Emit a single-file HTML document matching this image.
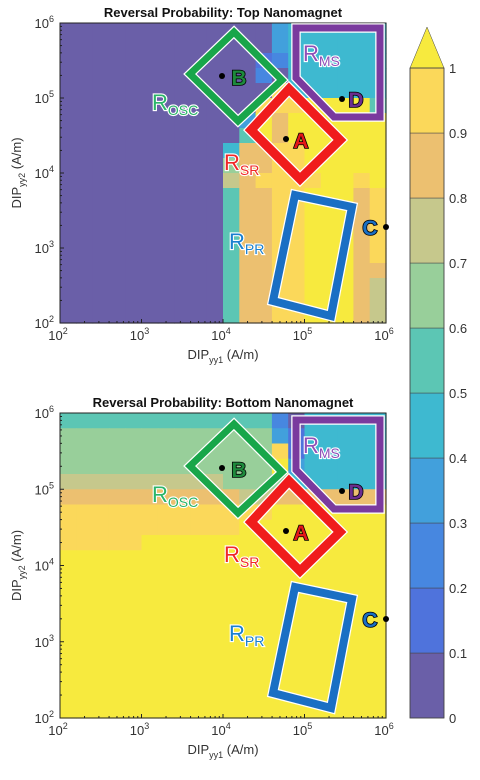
<!DOCTYPE html>
<html><head><meta charset="utf-8"><style>
html,body{margin:0;padding:0;background:#fff;}
svg{display:block;font-family:"Liberation Sans",sans-serif;}
.lab{font-weight:bold;paint-order:stroke;stroke:#000;stroke-width:1.6px;}
.reg{paint-order:stroke;stroke:#fff;stroke-width:2.2px;}
</style></head><body>
<svg id="fig" width="480" height="780" viewBox="0 0 480 780" xmlns="http://www.w3.org/2000/svg"></svg>
<script>
// ---- data ----
const levelChars = "0123456789Y";
const levelColors = ["#6a5fa8","#4f73dc","#4787e0","#42a0dc","#3eb9d0","#5cc6b4","#98cf9a","#c6c88c","#ecc070","#fbd85a","#f7ea3e"];
const colorbarTicks = ["0","0.1","0.2","0.3","0.4","0.5","0.6","0.7","0.8","0.9","1"];
const decadeTicks = [2,3,4,5,6];
// rows top (1e6) to bottom (1e2), 20 columns from 1e2 to 1e6, each 0.2 decade
const topGrid = [
"00000000000003444444",
"00000000000003444444",
"00000000000012444444",
"00000000000020444444",
"00000000000009444444",
"000000000000999YYYY5",
"000000000003Y8YYYYYY",
"000000000005Y8YYYYYY",
"000000000048899YYYYY",
"000000000068899YYYYY",
"0000000000789999YY9Y",
"000000000058899YYY89",
"000000000058899YYY89",
"000000000058899YYY89",
"000000000058899YYY89",
"000000000058899YYY89",
"000000000058899YYY88",
"000000000058899YYY87",
"000000000058899YYY87",
"000000000058899YYY87"];
const bottomGrid = [
"55555555555552044444",
"66666666666663144444",
"66666666666669144444",
"6666666666666Y344444",
"77777777776666444444",
"88888888888778888888",
"9999999999999YYYYYYY",
"99999999999YYYYYYYYY",
"99999YYYYYYYYYYYYYYY",
"YYYYYYYYYYYYYYYYYYYY",
"YYYYYYYYYYYYYYYYYYYY",
"YYYYYYYYYYYYYYYYYYYY",
"YYYYYYYYYYYYYYYYYYYY",
"YYYYYYYYYYYYYYYYYYYY",
"YYYYYYYYYYYYYYYYYYYY",
"YYYYYYYYYYYYYYYYYYYY",
"YYYYYYYYYYYYYYYYYYYY",
"YYYYYYYYYYYYYYYYYYYY",
"YYYYYYYYYYYYYYYYYYYY",
"YYYYYYYYYYYYYYYYYYYY"];

const NS="http://www.w3.org/2000/svg";
const svg=document.getElementById('fig');
function el(tag,attrs,parent){const e=document.createElementNS(NS,tag);for(const k in attrs)e.setAttribute(k,attrs[k]);(parent||svg).appendChild(e);return e;}

function drawPanel(grid,x0,y0,x1,y1,title,name,off){
  const g=el('g',{});
  
  
  const sx=v=>x0+(v-2)/4*(x1-x0);
  const sy=v=>y1-(v-2)/4*(y1-y0);
  const rows=grid.length, cols=grid[0].length;
  const span=4;
  for(let r=0;r<rows;r++)for(let c=0;c<cols;c++){
    const lv=levelChars.indexOf(grid[r][c]);
    const xa=sx(2+c*span/cols), xb=sx(2+(c+1)*span/cols);
    const ya=sy(6-r*span/rows), yb=sy(6-(r+1)*span/rows);
    const rc=el('rect',{x:xa,y:ya,width:xb-xa+0.6,height:yb-ya+0.6,fill:levelColors[lv]},g);
    
    
  }
  const box=el('rect',{x:x0,y:y0,width:x1-x0,height:y1-y0,fill:'none',stroke:'#222','stroke-width':1},g);
  
  
  decadeTicks.forEach((d,i)=>{
    const X=sx(d),Y=sy(d);
    el('line',{x1:X,y1:y1,x2:X,y2:y1-4,stroke:'#222'},g);
    el('line',{x1:x0,y1:Y,x2:x0+4,y2:Y,stroke:'#222'},g);
    if(i<decadeTicks.length-1){for(let m=2;m<10;m++){const lm=d+Math.log10(m);
      el('line',{x1:sx(lm),y1:y1,x2:sx(lm),y2:y1-2,stroke:'#222'},g);
      el('line',{x1:x0,y1:sy(lm),x2:x0+2,y2:sy(lm),stroke:'#222'},g);}}
    const tx=el('text',{x:X-2,y:y1+17,'font-size':13,fill:'#333','text-anchor':'middle'},g);
    tx.innerHTML='10<tspan dy="-6" font-size="9">'+d+'</tspan>';
    
    
    const ty=el('text',{x:x0-6,y:Y+5,'font-size':13,fill:'#333','text-anchor':'end'},g);
    ty.innerHTML='10<tspan dy="-6" font-size="9">'+d+'</tspan>';
    
    
  });
  const t=el('text',{x:(x0+x1)/2,y:y0-6,'font-size':13,'font-weight':'bold','text-anchor':'middle',fill:'#111'},g);
  t.textContent=title;
  
  
  const xt=el('text',{x:(x0+x1)/2,y:y1+36,'font-size':13,'text-anchor':'middle',fill:'#333'},g);
  xt.innerHTML='DIP<tspan dy="4" font-size="9">yy1</tspan><tspan dy="-4"> (A/m)</tspan>';
  
  
  const yt=el('text',{x:0,y:0,'font-size':13,'text-anchor':'middle',fill:'#333',transform:'translate(21,'+((y0+y1)/2)+') rotate(-90)'},g);
  yt.innerHTML='DIP<tspan dy="4" font-size="9">yy2</tspan><tspan dy="-4"> (A/m)</tspan>';
  
  

  const o=el('g',{transform:'translate(0,'+off+')'},g);
  function poly(pts,color,w,nm){
    el('polygon',{points:pts,fill:'none',stroke:'#fff','stroke-width':w+2.5,'stroke-linejoin':'miter'},o);
    const p=el('polygon',{points:pts,fill:'none',stroke:color,'stroke-width':w,'stroke-linejoin':'miter'},o);
    
    
  }
  poly('234,32 282,80 238,121 190,74','#18a64a',7,'region-osc-diamond');
  poly('289,89 340,140 300,179 251,130','#f01c1c',9,'region-sr-diamond');
  poly('295,195 352,207 331,316 273,301','#1a6fc4',8,'region-pr-rect');
  poly('296,28 380,28 380,117 334,117 296,78','#7a3a9e',7,'region-ms-outline');
  function dot(x,y){const d=el('circle',{cx:x,cy:y,r:3,fill:'#000'},o);}
  function letter(txt,x,y,color,nm){const l=el('text',{x:x,y:y,'font-size':21,fill:color,'text-anchor':'middle',class:'lab'},o);l.textContent=txt;}
  dot(222,76);letter('B',239,85,'#1d8a3c','point-b-label');
  dot(286,139);letter('A',301,148,'#e41818','point-a-label');
  dot(386,227);letter('C',370,235,'#1a6fc4','point-c-label');
  dot(342,99);letter('D',356,107,'#6a2e90','point-d-label');
  function reg(main,sub,x,y,color,nm){const l=el('text',{x:x,y:y,'font-size':22,fill:color,class:'reg'},o);l.innerHTML=main+'<tspan dy="5" font-size="14">'+sub+'</tspan>';}
  reg('R','OSC',152,110,'#2bb56a','region-osc-label');
  reg('R','SR',224,170,'#f02828','region-sr-label');
  reg('R','MS',303,61,'#9050b8','region-ms-label');
  reg('R','PR',229,249,'#1a80d0','region-pr-label');
}
drawPanel(topGrid,60,23,386,323,'Reversal Probability: Top Nanomagnet','top-panel',0);
drawPanel(bottomGrid,60,413,386,718,'Reversal Probability: Bottom Nanomagnet','bottom-panel',392);

const cb=el('g',{});


const cx0=410,cx1=444,cy0=68,cy1=718;
for(let i=0;i<10;i++){
  const ya=cy1-(i+1)*(cy1-cy0)/10;
  const r=el('rect',{x:cx0,y:ya,width:cx1-cx0,height:(cy1-cy0)/10,fill:levelColors[i],stroke:'#444','stroke-width':0.5},cb);
  
  
}
const ar=el('polygon',{points:cx0+','+cy0+' '+cx1+','+cy0+' '+((cx0+cx1)/2)+',27',fill:levelColors[10],stroke:'#444','stroke-width':0.5},cb);


el('rect',{x:cx0,y:cy0,width:cx1-cx0,height:cy1-cy0,fill:'none',stroke:'#444','stroke-width':0.8},cb);
colorbarTicks.forEach((t,i)=>{
  const y=cy1-i*(cy1-cy0)/10;
  const tx=el('text',{x:449,y:y+5,'font-size':13,fill:'#333'},cb);
  tx.textContent=t;
  
  
});
</script>
</body></html>
